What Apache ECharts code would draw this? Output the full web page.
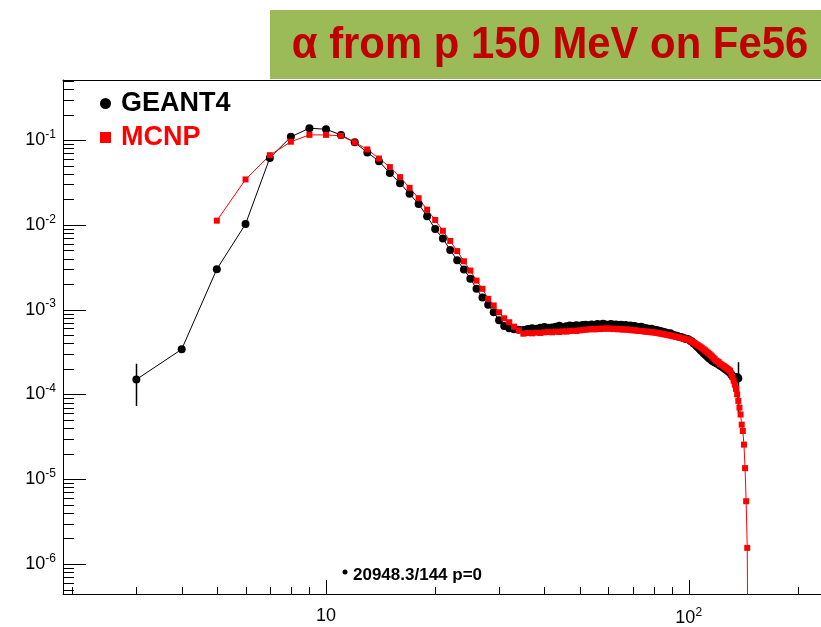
<!DOCTYPE html>
<html>
<head>
<meta charset="utf-8">
<script src="https://cdn.jsdelivr.net/npm/echarts@6/dist/echarts.min.js"></script>
<style>
html, body { margin: 0; padding: 0; background: #fff; }
#chart { width: 821px; height: 627px; }
</style>
</head>
<body>
<div id="chart"></div>
<script>
// alpha energy bins (MeV) and yields
const g4Energy = [
  3, 4, 5, 6, 7, 8, 9, 10, 11, 12, 13, 14, 15, 16, 17, 18, 19, 20, 21, 22,
  23, 24, 25, 26, 27, 28, 29, 30, 31, 32, 33, 34, 35, 36, 37, 38, 39, 40, 41, 42,
  43, 44, 45, 46, 47, 48, 49, 50, 51, 52, 53, 54, 55, 56, 57, 58, 59, 60, 61, 62,
  63, 64, 65, 66, 67, 68, 69, 70, 71, 72, 73, 74, 75, 76, 77, 78, 79, 80, 81, 82,
  83, 84, 85, 86, 87, 88, 89, 90, 91, 92, 93, 94, 95, 96, 97, 98, 99, 100, 101, 102,
  103, 104, 105, 106, 107, 108, 109, 110, 111, 112, 113, 114, 115, 116, 117, 118, 119, 120, 121, 122,
  123, 124, 125, 126, 127, 128, 129, 130, 131, 132, 133, 134, 135, 136, 137
];
const g4Value = [
  1.5e-4, 3.4e-4, 3.0e-3, 1.02e-2, 0.0616, 0.109, 0.138, 0.134, 0.115, 0.094,
  0.0713, 0.0562, 0.0408, 0.031, 0.0232, 0.0176, 0.0126, 0.0089, 0.0069, 0.00504,
  0.00383, 0.00297, 0.00232, 0.00176, 0.00139, 0.00114, 9.3e-4, 7.5e-4, 6.4e-4, 6.05e-4,
  5.85e-4, 5.8e-4, 5.75e-4, 5.9e-4, 6.05e-4, 5.95e-4, 6.1e-4, 6.25e-4, 6.1e-4, 6.15e-4,
  6.3e-4, 6.45e-4, 6.2e-4, 6.35e-4, 6.5e-4, 6.4e-4, 6.55e-4, 6.45e-4, 6.6e-4, 6.65e-4,
  6.5e-4, 6.7e-4, 6.6e-4, 6.75e-4, 6.65e-4, 6.8e-4, 6.7e-4, 6.6e-4, 6.75e-4, 6.65e-4,
  6.7e-4, 6.6e-4, 6.65e-4, 6.5e-4, 6.6e-4, 6.4e-4, 6.5e-4, 6.35e-4, 6.4e-4, 6.25e-4,
  6.2e-4, 6.3e-4, 6.1e-4, 6.05e-4, 6.0e-4, 5.9e-4, 5.95e-4, 5.8e-4, 5.75e-4, 5.7e-4,
  5.6e-4, 5.55e-4, 5.45e-4, 5.4e-4, 5.3e-4, 5.2e-4, 5.25e-4, 5.1e-4, 5.0e-4, 4.95e-4,
  4.9e-4, 4.8e-4, 4.75e-4, 4.7e-4, 4.6e-4, 4.55e-4, 4.5e-4, 4.45e-4, 4.3e-4, 4.2e-4,
  4.0e-4, 3.9e-4, 3.75e-4, 3.6e-4, 3.45e-4, 3.3e-4, 3.2e-4, 3.05e-4, 2.95e-4, 2.85e-4,
  2.75e-4, 2.65e-4, 2.6e-4, 2.5e-4, 2.45e-4, 2.4e-4, 2.35e-4, 2.3e-4, 2.25e-4, 2.2e-4,
  2.15e-4, 2.1e-4, 2.05e-4, 2.0e-4, 1.95e-4, 1.9e-4, 1.85e-4, 1.8e-4, 1.72e-4, 1.65e-4,
  1.6e-4, 1.55e-4, 1.5e-4, 1.6e-4, 1.55e-4
];
// GEANT4 points drawn with visible error bars
const g4ErrEnergy = [3, 137];
const g4ErrLow = [7.3e-5, 6.1e-5];
const g4ErrHigh = [2.3e-4, 2.4e-4];

const mcnpEnergy = [
  5, 6, 7, 8, 9, 10, 11, 12, 13, 14, 15, 16, 17, 18, 19, 20, 21, 22, 23, 24,
  25, 26, 27, 28, 29, 30, 31, 32, 33, 34, 35, 36, 37, 38, 39, 40, 41, 42, 43, 44,
  45, 46, 47, 48, 49, 50, 51, 52, 53, 54, 55, 56, 57, 58, 59, 60, 61, 62, 63, 64,
  65, 66, 67, 68, 69, 70, 71, 72, 73, 74, 75, 76, 77, 78, 79, 80, 81, 82, 83, 84,
  85, 86, 87, 88, 89, 90, 91, 92, 93, 94, 95, 96, 97, 98, 99, 100, 101, 102, 103, 104,
  105, 106, 107, 108, 109, 110, 111, 112, 113, 114, 115, 116, 117, 118, 119, 120, 121, 122, 123, 124,
  125, 126, 127, 128, 129, 130, 131, 132, 133, 134, 135, 136, 137, 138, 139, 140, 141, 142, 143, 144,
  145, 146
];
const mcnpValue = [
  0.0112, 0.0343, 0.0663, 0.0955, 0.115, 0.115, 0.112, 0.094, 0.0775, 0.0605,
  0.048, 0.0365, 0.0273, 0.0206, 0.0151, 0.0114, 0.0085, 0.00646, 0.0049, 0.00372,
  0.00289, 0.0022, 0.00176, 0.00134, 0.00112, 9.3e-4, 7.9e-4, 7.1e-4, 6.3e-4, 5.7e-4,
  5.2e-4, 5.3e-4, 5.25e-4, 5.35e-4, 5.3e-4, 5.4e-4, 5.45e-4, 5.4e-4, 5.5e-4, 5.45e-4,
  5.55e-4, 5.5e-4, 5.6e-4, 5.65e-4, 5.6e-4, 5.7e-4, 5.75e-4, 5.8e-4, 5.85e-4, 5.9e-4,
  5.85e-4, 5.95e-4, 5.9e-4, 6.0e-4, 5.95e-4, 6.0e-4, 5.95e-4, 5.9e-4, 5.95e-4, 5.85e-4,
  5.9e-4, 5.8e-4, 5.85e-4, 5.8e-4, 5.75e-4, 5.7e-4, 5.7e-4, 5.65e-4, 5.6e-4, 5.6e-4,
  5.55e-4, 5.5e-4, 5.5e-4, 5.45e-4, 5.4e-4, 5.4e-4, 5.35e-4, 5.3e-4, 5.25e-4, 5.2e-4,
  5.15e-4, 5.1e-4, 5.05e-4, 5.0e-4, 4.95e-4, 4.9e-4, 4.85e-4, 4.8e-4, 4.75e-4, 4.7e-4,
  4.65e-4, 4.6e-4, 4.55e-4, 4.5e-4, 4.45e-4, 4.4e-4, 4.3e-4, 4.2e-4, 4.1e-4, 4.0e-4,
  3.9e-4, 3.8e-4, 3.7e-4, 3.6e-4, 3.5e-4, 3.4e-4, 3.3e-4, 3.2e-4, 3.1e-4, 3.0e-4,
  2.9e-4, 2.8e-4, 2.7e-4, 2.6e-4, 2.5e-4, 2.45e-4, 2.4e-4, 2.3e-4, 2.25e-4, 2.2e-4,
  2.15e-4, 2.1e-4, 2.05e-4, 2.0e-4, 1.95e-4, 1.9e-4, 1.75e-4, 1.6e-4, 1.45e-4, 1.3e-4,
  1.16e-4, 1.0e-4, 8.4e-5, 7.0e-5, 5.8e-5, 4.4e-5, 3.7e-5, 2.56e-5, 1.35e-5, 5.5e-6,
  1.55e-6, 1e-8
];

// axis ranges and ticks
const xMin = 1.883, xMax = 231.6;
const yMin = 4.43e-7, yMax = 0.5105;
const xMajorTicks = [10, 100];
const xMinorTicks = [2, 3, 4, 5, 6, 7, 8, 9, 20, 30, 40, 50, 60, 70, 80, 90, 200];
const yMajorTicks = [1e-6, 1e-5, 1e-4, 1e-3, 1e-2, 1e-1];
const yMinorSteps = [2, 3, 4, 5, 6, 7, 8, 9];
const yDecades = [1e-7, 1e-6, 1e-5, 1e-4, 1e-3, 1e-2, 1e-1];

const yMinorTicks = [];
yDecades.forEach(d => {
  yMinorSteps.forEach(s => {
    const v = d * s;
    if (v > yMin && v < yMax) yMinorTicks.push(v);
  });
});

const xTickData = xMajorTicks.map(v => [v, yMin, 14]).concat(xMinorTicks.map(v => [v, yMin, 7]));
const yTickData = yMajorTicks.map(v => [xMin, v, 23]).concat(yMinorTicks.map(v => [xMin, v, 11]));

const chart = echarts.init(document.getElementById('chart'));

const powLabel = v => {
  const e = Math.round(Math.log10(v));
  if (e === 1) return '{b|10}';
  return '{b|10}{s|' + e + '}';
};
const labelRich = {
  b: { fontSize: 18, fontFamily: 'Liberation Sans', color: '#000' },
  s: { fontSize: 12, fontFamily: 'Liberation Sans', color: '#000', padding: [0, 0, 11, 0] }
};

const option = {
  animation: false,
  backgroundColor: '#fff',
  grid: { left: 63, top: 80, right: 0, bottom: 33, outerBoundsMode: 'none' },
  legend: {
    orient: 'vertical',
    left: 100,
    top: 90,
    padding: 0,
    itemGap: 7,
    itemWidth: 11,
    itemHeight: 11,
    textStyle: { fontSize: 27, fontWeight: 'bold', fontFamily: 'Liberation Sans', padding: [0, 0, 0, 5] },
    data: [
      { name: 'GEANT4', icon: 'circle', textStyle: { color: '#000' } },
      { name: 'MCNP', icon: 'rect', textStyle: { color: '#ff0000' } }
    ]
  },
  xAxis: [
    {
      type: 'log', min: xMin, max: xMax,
      axisLine: { show: true, lineStyle: { color: '#000', width: 1 } },
      axisTick: { show: false },
      splitLine: { show: false },
      axisLabel: {
        margin: 13, showMinLabel: false, showMaxLabel: false,
        formatter: powLabel, rich: labelRich
      }
    },
    {
      type: 'log', min: xMin, max: xMax, position: 'top',
      axisLine: { show: true, lineStyle: { color: '#000', width: 1 } },
      axisTick: { show: false },
      axisLabel: { show: false },
      splitLine: { show: false }
    }
  ],
  yAxis: {
    type: 'log', min: yMin, max: yMax,
    axisLine: { show: true, lineStyle: { color: '#000', width: 1 } },
    axisTick: { show: false },
    splitLine: { show: false },
    axisLabel: {
      margin: 7, showMinLabel: false, showMaxLabel: false,
      formatter: powLabel, rich: labelRich
    }
  },
  graphic: [
    {
      type: 'rect', left: 270, top: 10, z: 100,
      shape: { width: 551, height: 69 },
      style: { fill: '#9bbb59' }
    },
    {
      type: 'text', x: 550, y: 46, z: 101, scaleX: 0.93,
      style: {
        text: 'α from p 150 MeV on Fe56',
        font: 'bold 45px "Liberation Sans"',
        fill: '#c00000', align: 'center', verticalAlign: 'middle'
      }
    },
    {
      type: 'circle', shape: { cx: 345, cy: 572, r: 2.5 },
      style: { fill: '#000' }
    },
    {
      type: 'text', x: 353, y: 575,
      style: {
        text: '20948.3/144 p=0',
        font: 'bold 17px "Liberation Sans"',
        fill: '#000', verticalAlign: 'middle'
      }
    }
  ],
  series: [
    {
      name: 'GEANT4', type: 'line',
      data: g4Energy.map((e, i) => [e, g4Value[i]]),
      symbol: 'circle', symbolSize: 8, showSymbol: true,
      lineStyle: { color: '#000', width: 1 },
      itemStyle: { color: '#000' },
      emphasis: { disabled: true }
    },
    {
      type: 'custom', name: 'g4err',
      data: g4ErrEnergy.map((e, i) => [e, g4ErrLow[i], g4ErrHigh[i]]),
      encode: { x: 0, y: [1, 2] },
      renderItem: (params, api) => {
        const lo = api.coord([api.value(0), api.value(1)]);
        const hi = api.coord([api.value(0), api.value(2)]);
        const x = Math.round(lo[0]) + 0.5;
        return { type: 'line', shape: { x1: x, y1: lo[1], x2: x, y2: hi[1] }, style: { stroke: '#000', lineWidth: 1.5 } };
      }
    },
    {
      name: 'MCNP', type: 'line',
      data: mcnpEnergy.map((e, i) => [e, mcnpValue[i]]),
      symbol: 'rect', symbolSize: 6, showSymbol: true,
      clip: true,
      lineStyle: { color: '#ff0000', width: 1 },
      itemStyle: { color: '#ff0000' },
      emphasis: { disabled: true }
    },
    {
      type: 'custom', name: 'xticks',
      data: xTickData,
      encode: { x: 0, y: 1 },
      renderItem: (params, api) => {
        const p = api.coord([api.value(0), api.value(1)]);
        const x = Math.round(p[0]) + 0.5;
        const y = Math.round(p[1]);
        return { type: 'line', shape: { x1: x, y1: y, x2: x, y2: y - api.value(2) }, style: { stroke: '#000', lineWidth: 1 } };
      }
    },
    {
      type: 'custom', name: 'yticks',
      data: yTickData,
      encode: { x: 0, y: 1 },
      renderItem: (params, api) => {
        const p = api.coord([api.value(0), api.value(1)]);
        const x = Math.round(p[0]);
        const y = Math.round(p[1]) + 0.5;
        return { type: 'line', shape: { x1: x, y1: y, x2: x + api.value(2), y2: y }, style: { stroke: '#000', lineWidth: 1 } };
      }
    }
  ]
};

chart.setOption(option);
</script>
</body>
</html>
